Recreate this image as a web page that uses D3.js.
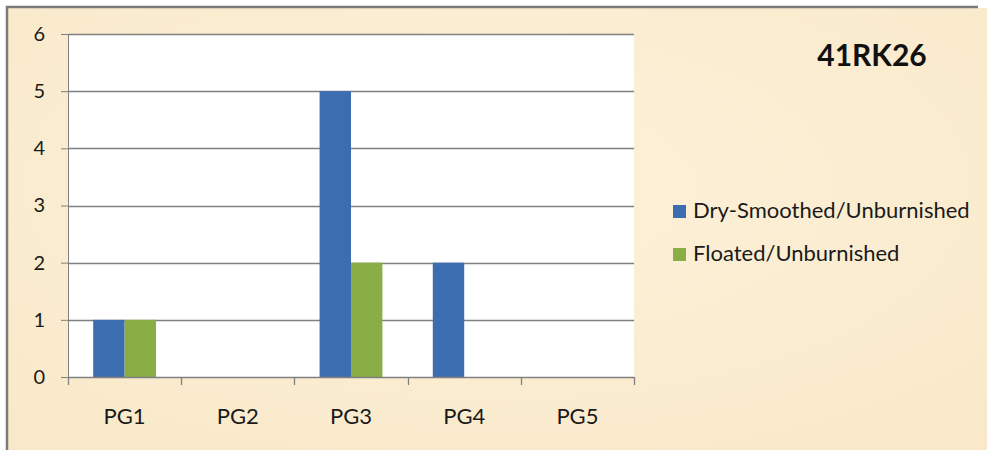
<!DOCTYPE html>
<html><head><meta charset="utf-8">
<script src="https://cdn.jsdelivr.net/npm/d3@7"></script>
<style>html,body{margin:0;padding:0;background:#fff;}svg{display:block;}</style>
</head><body>
<svg id="c" width="987" height="450"></svg>
<script>
const categories = ["PG1","PG2","PG3","PG4","PG5"];
const seriesNames = ["Dry-Smoothed/Unburnished","Floated/Unburnished"];
const drySmoothed = [1,0,5,2,0];
const floated = [1,0,2,0,0];
const yTicks = [0,1,2,3,4,5,6];
const title = "41RK26";
const colors = ["#3d6db1","#8aad46"];

const svg = d3.select("#c");
const font = "Lato, 'Open Sans', sans-serif";

// parchment background
const defs = svg.append("defs");
const rg = defs.append("radialGradient").attr("id","bg").attr("cx","50%").attr("cy","40%").attr("r","75%");
rg.append("stop").attr("offset","0%").attr("stop-color","#fdf1d9");
rg.append("stop").attr("offset","100%").attr("stop-color","#f9e9ca");
svg.append("rect").attr("x",8).attr("y",8).attr("width",979).attr("height",442).attr("fill","url(#bg)");
svg.append("line").attr("x1",6).attr("x2",978).attr("y1",7).attr("y2",7).attr("stroke","#7a7a7a").attr("stroke-width",2.5);
svg.append("line").attr("x1",7).attr("x2",7).attr("y1",6).attr("y2",450).attr("stroke","#7a7a7a").attr("stroke-width",2.5);

const plot = {left:68, right:634, top:34, bottom:377};
const x0 = d3.scaleBand().domain(categories).range([plot.left, plot.right]).padding(0);
const bw = x0.bandwidth();
const x1 = d3.scaleBand().domain(seriesNames).range([bw*0.2225, bw*0.7775]).padding(0);
const y = d3.scaleLinear().domain([0,6]).range([plot.bottom, plot.top]);

svg.append("rect").attr("x",plot.left).attr("y",plot.top).attr("width",plot.right-plot.left).attr("height",plot.bottom-plot.top).attr("fill","#fff");

// y axis with gridlines
const yAxis = svg.append("g").attr("transform",`translate(${plot.left},0)`)
  .call(d3.axisLeft(y).tickValues(yTicks).tickFormat(d3.format("d")).tickSize(7).tickPadding(16));
yAxis.select(".domain").attr("stroke","#808080");
yAxis.selectAll(".tick line").attr("stroke","#808080");
yAxis.selectAll(".tick text").attr("font-family",font).attr("font-size",20).attr("fill","#1a1a1a");
svg.append("g").selectAll("line").data(yTicks.filter(d=>d>0)).join("line")
  .attr("x1",plot.left).attr("x2",plot.right).attr("y1",d=>Math.round(y(d))+0.5).attr("y2",d=>Math.round(y(d))+0.5)
  .attr("stroke","#808080").attr("stroke-width",1.3);

// bars
const data = categories.map((c,i)=>({cat:c, vals:[drySmoothed[i], floated[i]]}));
const groups = svg.append("g").selectAll("g").data(data).join("g").attr("transform",d=>`translate(${x0(d.cat)},0)`);
groups.selectAll("rect").data(d=>d.vals.map((v,j)=>({name:seriesNames[j], v, j}))).join("rect")
  .attr("x",d=>x1(d.name)).attr("width",x1.bandwidth())
  .attr("y",d=>y(d.v)).attr("height",d=>y(0)-y(d.v)).attr("fill",d=>colors[d.j]);

// x axis
const xAxisG = svg.append("g").attr("transform",`translate(0,${plot.bottom})`)
  .call(d3.axisBottom(x0).tickSize(0).tickPadding(0));
xAxisG.select(".domain").remove();
xAxisG.selectAll(".tick text").attr("font-family",font).attr("font-size",22).attr("fill","#1a1a1a").attr("dy","0").attr("y",47);
svg.append("line").attr("x1",plot.left).attr("x2",plot.right).attr("y1",plot.bottom+0.5).attr("y2",plot.bottom+0.5).attr("stroke","#808080").attr("stroke-width",1.3);
const bounds = categories.map(c=>x0(c)).concat([plot.right]);
svg.append("g").selectAll("line").data(bounds).join("line")
  .attr("x1",d=>Math.round(d)+0.5).attr("x2",d=>Math.round(d)+0.5).attr("y1",plot.bottom).attr("y2",plot.bottom+8)
  .attr("stroke","#808080").attr("stroke-width",1.3);

// title
svg.append("text").attr("x",872).attr("y",66).attr("text-anchor","middle")
  .attr("font-family",font).attr("font-weight","bold").attr("font-size",30).attr("fill","#111").text(title);

// legend
const leg = svg.append("g").selectAll("g").data(seriesNames).join("g")
  .attr("transform",(d,i)=>`translate(673,${205+i*43})`);
leg.append("rect").attr("width",13).attr("height",13).attr("fill",(d,i)=>colors[i]);
leg.append("text").attr("x",20).attr("y",5).attr("dy","0.35em").attr("font-family",font).attr("font-size",22).attr("fill","#1a1a1a").text(d=>d);
</script>
</body></html>
